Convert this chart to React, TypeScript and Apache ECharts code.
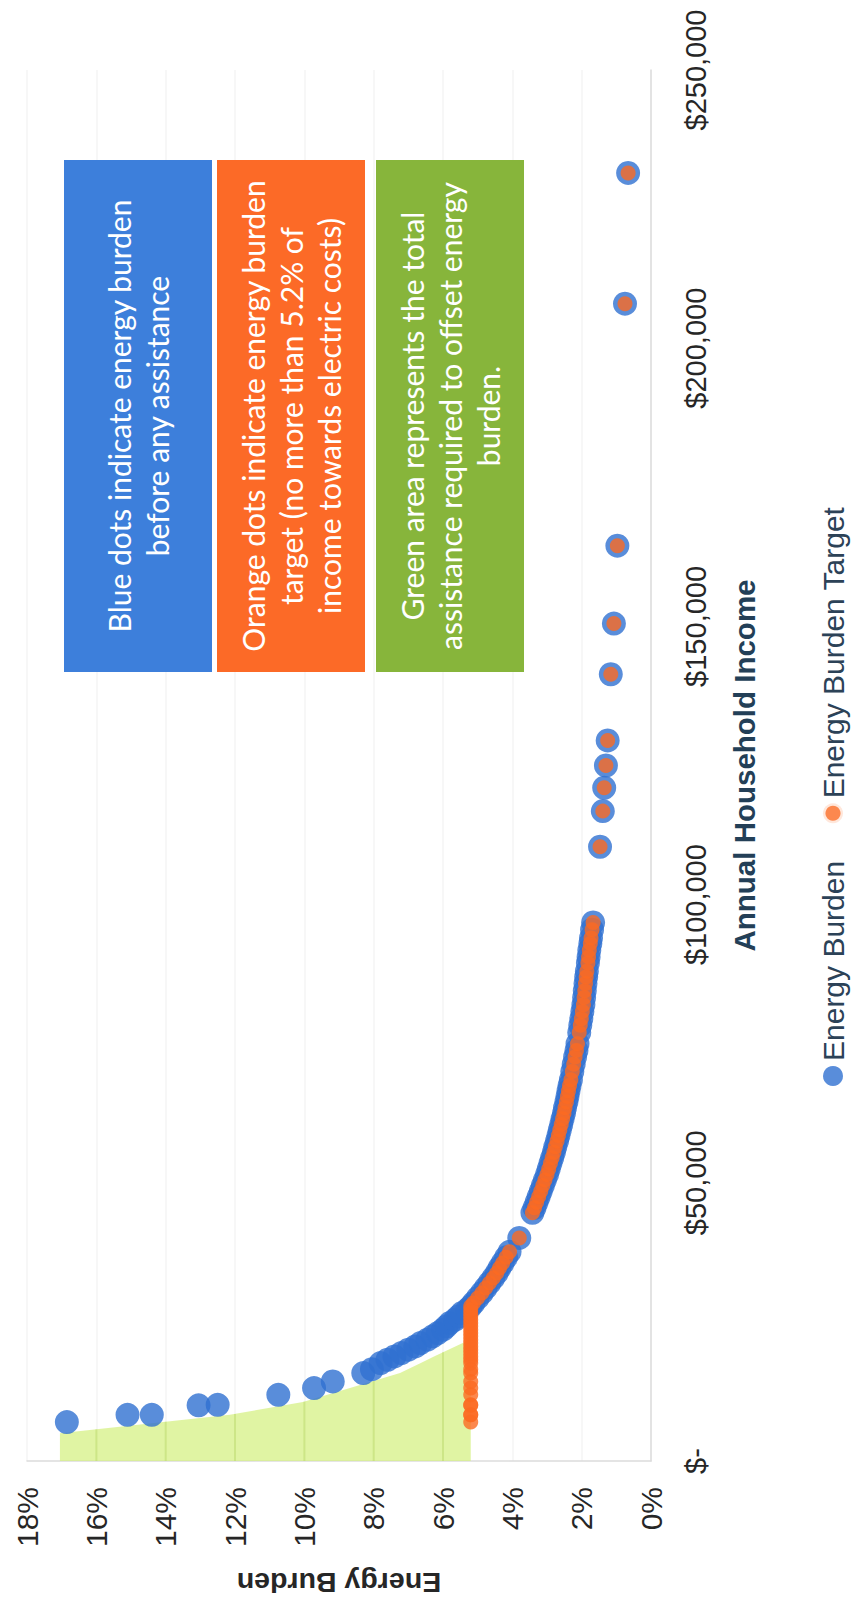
import React, { useEffect, useRef } from "react";
import * as echarts from "echarts";

// ---- Data ----
const incomes = [
  7000, 8300, 8300, 10000, 10100, 11900, 13100, 14300, 15800, 16500, 17600,
  18200, 18800, 19400, 20000, 20600, 21200, 21800, 22400, 23000, 23600, 24200,
  24800, 25400, 26000, 26600, 27200, 27800, 28400, 29300, 30200, 31100, 32000,
  32900, 33800, 34700, 35600, 36600, 37600, 40100, 44600, 45500, 46500, 47500,
  48500, 49500, 50500, 51500, 52500, 53500, 54500, 55500, 56500, 57500, 58500,
  59500, 60500, 61500, 62500, 63500, 64500, 65500, 66500, 67500, 68500, 70000,
  71300, 72600, 73800, 75000, 77000, 78300, 79500, 80800, 82000, 83300, 84500,
  85800, 87000, 88000, 89500, 90600, 91800, 93000, 94000, 95500, 96800, 110400,
  116800, 121000, 125000, 129500, 141400, 150500, 164500, 208000, 231500,
];

const energyBurden = [
  16.85, 15.1, 14.4, 13.05, 12.5, 10.75, 9.72, 9.18, 8.3, 8.05, 7.8,
  7.6, 7.4, 7.2, 7.0, 6.8, 6.65, 6.45, 6.3, 6.15, 6.0, 5.9,
  5.8, 5.65, 5.55, 5.45, 5.3, 5.2, 5.12, 5.0, 4.88, 4.77, 4.66,
  4.55, 4.45, 4.37, 4.28, 4.18, 4.08, 3.8, 3.42, 3.36, 3.3, 3.24,
  3.18, 3.12, 3.06, 3.0, 2.95, 2.9, 2.85, 2.8, 2.76, 2.71, 2.67,
  2.63, 2.59, 2.55, 2.51, 2.48, 2.44, 2.41, 2.38, 2.35, 2.31, 2.27,
  2.23, 2.19, 2.15, 2.12, 2.07, 2.04, 2.01, 1.98, 1.95, 1.93, 1.91,
  1.89, 1.87, 1.85, 1.82, 1.8, 1.78, 1.75, 1.73, 1.7, 1.67, 1.47,
  1.39, 1.35, 1.3, 1.25, 1.16, 1.07, 0.97, 0.75, 0.66,
];

const energyBurdenTarget = [
  5.2, 5.2, 5.2, 5.2, 5.2, 5.2, 5.2, 5.2, 5.2, 5.2, 5.2,
  5.2, 5.2, 5.2, 5.2, 5.2, 5.2, 5.2, 5.2, 5.2, 5.2, 5.2,
  5.2, 5.2, 5.2, 5.2, 5.2, 5.2, 5.12, 5.0, 4.88, 4.77, 4.66,
  4.55, 4.45, 4.37, 4.28, 4.18, 4.08, 3.8, 3.42, 3.36, 3.3, 3.24,
  3.18, 3.12, 3.06, 3.0, 2.95, 2.9, 2.85, 2.8, 2.76, 2.71, 2.67,
  2.63, 2.59, 2.55, 2.51, 2.48, 2.44, 2.41, 2.38, 2.35, 2.31, 2.27,
  2.23, 2.19, 2.15, 2.12, 2.07, 2.04, 2.01, 1.98, 1.95, 1.93, 1.91,
  1.89, 1.87, 1.85, 1.82, 1.8, 1.78, 1.75, 1.73, 1.7, 1.67, 1.47,
  1.39, 1.35, 1.3, 1.25, 1.16, 1.07, 0.97, 0.75, 0.66,
];

// Green assistance area: between the target level and the burden curve
const greenIncome = [0, 5000, 8300, 10600, 14000, 15800, 17600, 18700, 21400, 22600];
const greenTop = [17.05, 17.05, 12.15, 10.04, 8.2, 7.24, 6.64, 6.29, 5.37, 5.2];
const greenBase = [5.2, 5.2, 5.2, 5.2, 5.2, 5.2, 5.2, 5.2, 5.2, 5.2];

const burdenTicks = { min: 0, max: 18, interval: 2 };
const incomeTicks = { min: 0, max: 250000, interval: 50000 };
const gridLevels = [6, 8, 10, 12, 14, 16];

const notes = [
  { text: "Blue dots indicate energy burden\nbefore any assistance", color: "#3d7fdb" },
  {
    text: "Orange dots indicate energy burden\ntarget (no more than 5.2% of\nincome towards electric costs)",
    color: "#fc6a27",
  },
  {
    text: "Green area represents the total\nassistance required to offset energy\nburden.",
    color: "#87b53b",
  },
];

export default function App() {
  const ref = useRef<HTMLDivElement>(null);

  useEffect(() => {
    if (!ref.current) return;
    const chart = echarts.init(ref.current, undefined, { renderer: "svg" });

    const noteBoxes = [
      { y: 64, h: 148 },
      { y: 217, h: 148 },
      { y: 376, h: 148 },
    ];
    const graphic: any[] = [];
    notes.forEach((n, i) => {
      const b = noteBoxes[i];
      graphic.push({
        type: "rect",
        x: 934,
        y: b.y,
        shape: { x: 0, y: 0, width: 512, height: b.h },
        style: { fill: n.color },
        z: 1,
      });
      graphic.push({
        type: "text",
        x: 934 + 256,
        y: b.y + b.h / 2,
        style: {
          text: n.text,
          fill: "#ffffff",
          fontSize: 30,
          fontFamily: "Lato",
          lineHeight: 38,
          align: "center",
          verticalAlign: "middle",
        },
        z: 2,
      });
    });

    // where the green top edge reaches a given burden level
    const crossIncome = (level: number) => {
      for (let i = 0; i < greenTop.length - 1; i++) {
        const a = greenTop[i];
        const b = greenTop[i + 1];
        if (a >= level && b <= level && a !== b) {
          const t = (a - level) / (a - b);
          return greenIncome[i] + t * (greenIncome[i + 1] - greenIncome[i]);
        }
      }
      return greenIncome[0];
    };

    const option: any = {
      animation: false,
      backgroundColor: "#ffffff",
      textStyle: { fontFamily: "Liberation Sans" },
      grid: { left: 145, right: 70, top: 27, bottom: 207, containLabel: false },
      legend: {
        data: [
          { name: "Energy Burden" },
          {
            name: "Energy Burden Target",
            itemStyle: { borderColor: "#ffffff", borderWidth: 5 },
          },
        ],
        left: 520,
        top: 818,
        padding: 0,
        itemGap: 35,
        itemWidth: 20,
        itemHeight: 20,
        icon: "circle",
        textStyle: { fontSize: 30, color: "#2c4257", fontFamily: "Liberation Sans" },
      },
      xAxis: {
        type: "value",
        min: incomeTicks.min,
        max: incomeTicks.max,
        interval: incomeTicks.interval,
        name: "Annual Household Income",
        nameLocation: "middle",
        nameGap: 78,
        nameTextStyle: {
          fontSize: 29.5,
          fontWeight: "bold",
          color: "#233f57",
          fontFamily: "Liberation Sans",
        },
        axisLine: { show: true, lineStyle: { color: "#dcdcdc", width: 1.5 } },
        axisTick: { show: false },
        splitLine: { show: false },
        axisLabel: {
          margin: 30,
          fontSize: 29,
          color: "#262626",
          formatter: (v: number) =>
            v === 0 ? "$-" : "$" + v.toLocaleString("en-US"),
        },
      },
      yAxis: {
        type: "value",
        min: burdenTicks.min,
        max: burdenTicks.max,
        interval: burdenTicks.interval,
        name: "Energy Burden",
        nameLocation: "middle",
        nameRotate: 90,
        nameGap: 107,
        nameTextStyle: {
          fontSize: 28.5,
          fontWeight: "bold",
          color: "#262626",
          fontFamily: "Liberation Sans",
        },
        axisLine: { show: true, lineStyle: { color: "#dcdcdc", width: 1.5 } },
        axisTick: { show: false },
        splitLine: { show: true, lineStyle: { color: "#f5f5f5", width: 1.5 } },
        axisLabel: {
          margin: 26,
          fontSize: 30,
          color: "#262626",
          formatter: "{value}%",
        },
      },
      series: [
        {
          name: "Assistance",
          type: "custom",
          coordinateSystem: "cartesian2d",
          data: [[greenIncome[0], greenBase[0]]],
          silent: true,
          z: 1,
          renderItem: (params: any, api: any) => {
            const top = greenIncome.map((x, i) => api.coord([x, greenTop[i]]));
            const base = greenIncome
              .map((x, i) => api.coord([x, greenBase[i]]))
              .reverse();
            const children: any[] = [
              {
                type: "polygon",
                shape: { points: top.concat(base) },
                style: { fill: "rgba(212, 240, 128, 0.72)" },
              },
            ];
            gridLevels.forEach((lv) => {
              const p1 = api.coord([0, lv]);
              const p2 = api.coord([crossIncome(lv), lv]);
              children.push({
                type: "line",
                shape: { x1: p1[0], y1: p1[1], x2: p2[0], y2: p2[1] },
                style: { stroke: "rgba(160, 200, 70, 0.28)", lineWidth: 2 },
              });
            });
            return { type: "group", children };
          },
        },
        {
          name: "Energy Burden",
          type: "scatter",
          data: incomes.map((x, i) => [x, energyBurden[i]]),
          symbol: "circle",
          symbolSize: 24,
          itemStyle: { color: "#2f71d1" },
          z: 3,
        },
        {
          name: "Energy Burden Target",
          type: "scatter",
          data: incomes.map((x, i) => [x, energyBurdenTarget[i]]),
          symbol: "circle",
          symbolSize: 15,
          itemStyle: { color: "#fb6a22" },
          z: 4,
        },
      ],
      graphic,
    };

    chart.setOption(option);
    return () => chart.dispose();
  }, []);

  return (
    <div
      style={{
        position: "absolute",
        left: 0,
        top: 0,
        width: 858,
        height: 1606,
        overflow: "hidden",
        background: "#ffffff",
      }}
    >
      <div
        ref={ref}
        style={{
          position: "absolute",
          left: 0,
          top: 0,
          width: 1606,
          height: 858,
          transformOrigin: "0 0",
          transform: "translateY(1606px) rotate(-90deg)",
        }}
      />
    </div>
  );
}
